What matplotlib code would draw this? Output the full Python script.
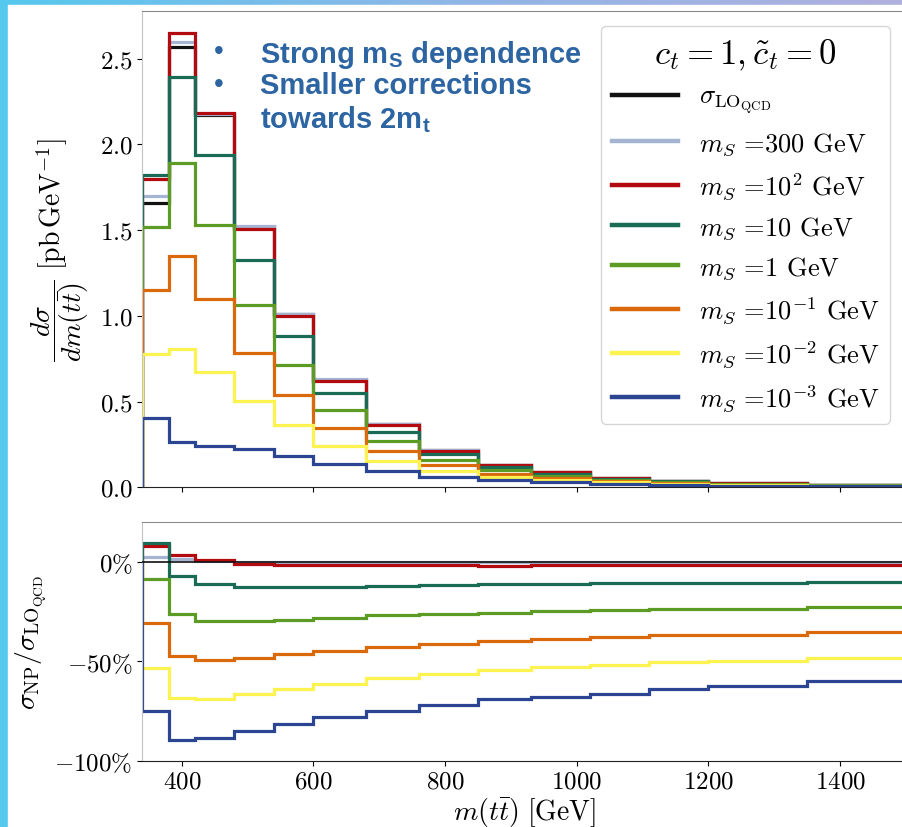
import numpy as np
import matplotlib
matplotlib.use("Agg")
import matplotlib.pyplot as plt
from matplotlib.colors import LinearSegmentedColormap
from matplotlib.lines import Line2D
from matplotlib.patches import Rectangle
from matplotlib.ticker import FuncFormatter

plt.rcParams["font.family"] = "serif"
plt.rcParams["font.serif"] = ["cmr10"]
plt.rcParams["mathtext.fontset"] = "cm"
plt.rcParams["axes.formatter.use_mathtext"] = True
plt.rcParams["mathtext.bf"] = "Liberation Sans:bold"
plt.rcParams["mathtext.rm"] = "Liberation Sans"

# bin edges in m(tt) [GeV]
edges = [340, 380, 420, 480, 540, 600, 680, 760, 850, 930, 1020, 1110, 1200, 1350, 1500]

# dsigma/dm [pb/GeV]
lo_qcd = [1.66, 2.57, 2.17, 1.52, 1.01, 0.628, 0.372, 0.217, 0.132, 0.089, 0.057, 0.039, 0.025, 0.015]
ms_300 = [1.70, 2.60, 2.175, 1.522, 1.011, 0.629, 0.372, 0.217, 0.132, 0.089, 0.057, 0.039, 0.025, 0.015]
ms_1e2 = [1.80, 2.652, 2.184, 1.509, 0.997, 0.619, 0.366, 0.214, 0.130, 0.088, 0.056, 0.038, 0.025, 0.015]
ms_10 = [1.824, 2.395, 1.94, 1.328, 0.882, 0.551, 0.325, 0.192, 0.117, 0.079, 0.051, 0.035, 0.022, 0.014]
ms_1 = [1.518, 1.893, 1.528, 1.061, 0.714, 0.448, 0.269, 0.160, 0.098, 0.067, 0.043, 0.030, 0.019, 0.012]
ms_1em1 = [1.148, 1.349, 1.10, 0.783, 0.541, 0.346, 0.210, 0.128, 0.079, 0.055, 0.035, 0.025, 0.016, 0.010]
ms_1em2 = [0.778, 0.808, 0.672, 0.506, 0.364, 0.243, 0.152, 0.095, 0.061, 0.042, 0.028, 0.019, 0.013, 0.008]
ms_1em3 = [0.405, 0.263, 0.243, 0.224, 0.185, 0.136, 0.093, 0.060, 0.041, 0.029, 0.019, 0.014, 0.009, 0.006]

# sigma_NP / sigma_LO - 1 [%]
rat_300 = [2.4, 1.4, 0.3, 0.1, 0.1, 0.1, 0.0, 0.0, 0.0, 0.0, 0.0, 0.0, 0.0, 0.0]
rat_1e2 = [8.2, 3.4, 0.9, -0.8, -1.3, -1.5, -1.5, -1.5, -1.8, -1.5, -1.5, -1.5, -1.5, -1.5]
rat_10 = [9.7, -6.9, -10.9, -12.4, -12.7, -12.4, -12.0, -11.7, -11.2, -11.0, -10.7, -10.4, -10.4, -9.9]
rat_1 = [-8.5, -26.3, -29.5, -29.8, -29.1, -28.1, -26.9, -26.3, -25.6, -24.6, -24.1, -23.4, -23.4, -22.6]
rat_1em1 = [-30.8, -47.2, -49.2, -48.2, -46.4, -44.9, -42.9, -41.2, -39.9, -38.7, -37.8, -36.8, -36.7, -35.3]
rat_1em2 = [-53.1, -68.5, -69.0, -66.6, -64.1, -61.5, -58.6, -56.3, -54.1, -52.9, -51.7, -50.4, -49.7, -48.4]
rat_1em3 = [-75.2, -89.4, -88.8, -84.9, -81.4, -78.0, -74.9, -72.2, -69.0, -67.8, -66.5, -63.8, -62.6, -59.8]

labels = [r"$\sigma_{\mathrm{LO}_{\mathrm{QCD}}}$", r"$m_S$ =300 GeV", r"$m_S$ =$10^2$ GeV",
          r"$m_S$ =10 GeV", r"$m_S$ =1 GeV", r"$m_S$ =$10^{-1}$ GeV",
          r"$m_S$ =$10^{-2}$ GeV", r"$m_S$ =$10^{-3}$ GeV"]
colors = ["#111111", "#a5b4d3", "#b30a10", "#1a6b56", "#5c9b24", "#da690c", "#fcf250", "#2c4593"]

W, H = 902, 828
fig = plt.figure(figsize=(W / 100, H / 100), dpi=100)

# slide background strip
bg = fig.add_axes([0, 0, 1, 1], zorder=-10)
bg.axis("off")
cmap = LinearSegmentedColormap.from_list("bg", ["#56c8ee", "#8fb6e6", "#b0b0de"])
bg.imshow(np.linspace(0, 1, 256)[None, :], aspect="auto", cmap=cmap, extent=[0, 1, 0, 1])
bg.add_patch(Rectangle((8 / W, 0), 1, 1 - 6 / H, color="white", transform=bg.transAxes))
bg.set_xlim(0, 1); bg.set_ylim(0, 1)

ax = fig.add_axes([142.3 / W, 1 - 488.3 / H, (906 - 142.3) / W, (488.3 - 11.7) / H])
rx = fig.add_axes([142.3 / W, 1 - 761.7 / H, (906 - 142.3) / W, (761.7 - 523.3) / H], sharex=ax)

top = [lo_qcd, ms_300, ms_1e2, ms_10, ms_1, ms_1em1, ms_1em2, ms_1em3]
bot = [None, rat_300, rat_1e2, rat_10, rat_1, rat_1em1, rat_1em2, rat_1em3]
lw = 2.3
for vals, rat, c in zip(top, bot, colors):
    ax.stairs(vals, edges, color=c, lw=lw)
    if rat is not None:
        rx.stairs(rat, edges, color=c, lw=lw)
rx.axhline(0, color="#111111", lw=1.2, zorder=5)

ax.set_xlim(340, 1500)
ax.set_ylim(0, 2.78)
ax.set_yticks([0, 0.5, 1.0, 1.5, 2.0, 2.5])
ax.yaxis.set_major_formatter(FuncFormatter(lambda v, p: rf"${v:.1f}$"))
ax.tick_params(labelbottom=False, labelsize=18)
rx.set_ylim(-100, 20)
rx.set_yticks([0, -50, -100])
rx.yaxis.set_major_formatter(FuncFormatter(lambda v, p: rf"${v:.0f}\%$"))
rx.set_xticks([400, 600, 800, 1000, 1200, 1400])
rx.xaxis.set_major_formatter(FuncFormatter(lambda v, p: rf"${v:.0f}$"))
rx.tick_params(labelsize=18)

for a in (ax, rx):
    a.spines["right"].set_visible(False)
    a.spines["top"].set_color("#8a8a8a")
    a.spines["left"].set_color("#c4c4c4")
    a.spines["bottom"].set_color("#222222")

ax.set_ylabel(r"$\dfrac{d\sigma}{dm(t\bar{t})}\ [\mathrm{pb\,GeV}^{-1}]$", fontsize=20, labelpad=6)
rx.set_ylabel(r"$\sigma_{\mathrm{NP}}/\sigma_{\mathrm{LO}_{\mathrm{QCD}}}$", fontsize=20, labelpad=4)
rx.set_xlabel(r"$m(t\bar{t})\ [\mathrm{GeV}]$", fontsize=20, labelpad=2)
for a in (ax, rx):
    a.yaxis.label.set_math_fontfamily("cm")
    a.xaxis.label.set_math_fontfamily("cm")

handles = [Line2D([], [], color=c, lw=3.2) for c in colors]
leg = ax.legend(handles, labels, title=r"$c_t = 1, \tilde{c}_t = 0$", loc="upper right",
                bbox_to_anchor=(890 / W, 1 - 27 / H), bbox_transform=fig.transFigure,
                borderaxespad=0, fontsize=19, title_fontsize=25, handlelength=2.5,
                labelspacing=0.51, edgecolor="#cccccc")
for t in leg.get_texts():
    t.set_math_fontfamily("cm")
leg.get_title().set_math_fontfamily("cm")

# slide annotation
blue = "#2d64a2"
kw = dict(color=blue, fontsize=21, fontweight="bold", family="Liberation Sans",
          math_fontfamily="custom", va="baseline")
fig.text(260 / W, 1 - 62.7 / H, r"Strong m$_\mathbf{S}$ dependence", **kw)
fig.text(260 / W, 1 - 94.3 / H, "Smaller corrections", **kw)
fig.text(260 / W, 1 - 128.3 / H, r"towards 2m$_\mathbf{t}$", **kw)
for yb in (51.7, 85.0):
    fig.text(219 / W, 1 - yb / H, "\u2022", color=blue, fontsize=20, family="Liberation Sans",
             ha="center", va="center")

fig.savefig("out.png", dpi=100)
